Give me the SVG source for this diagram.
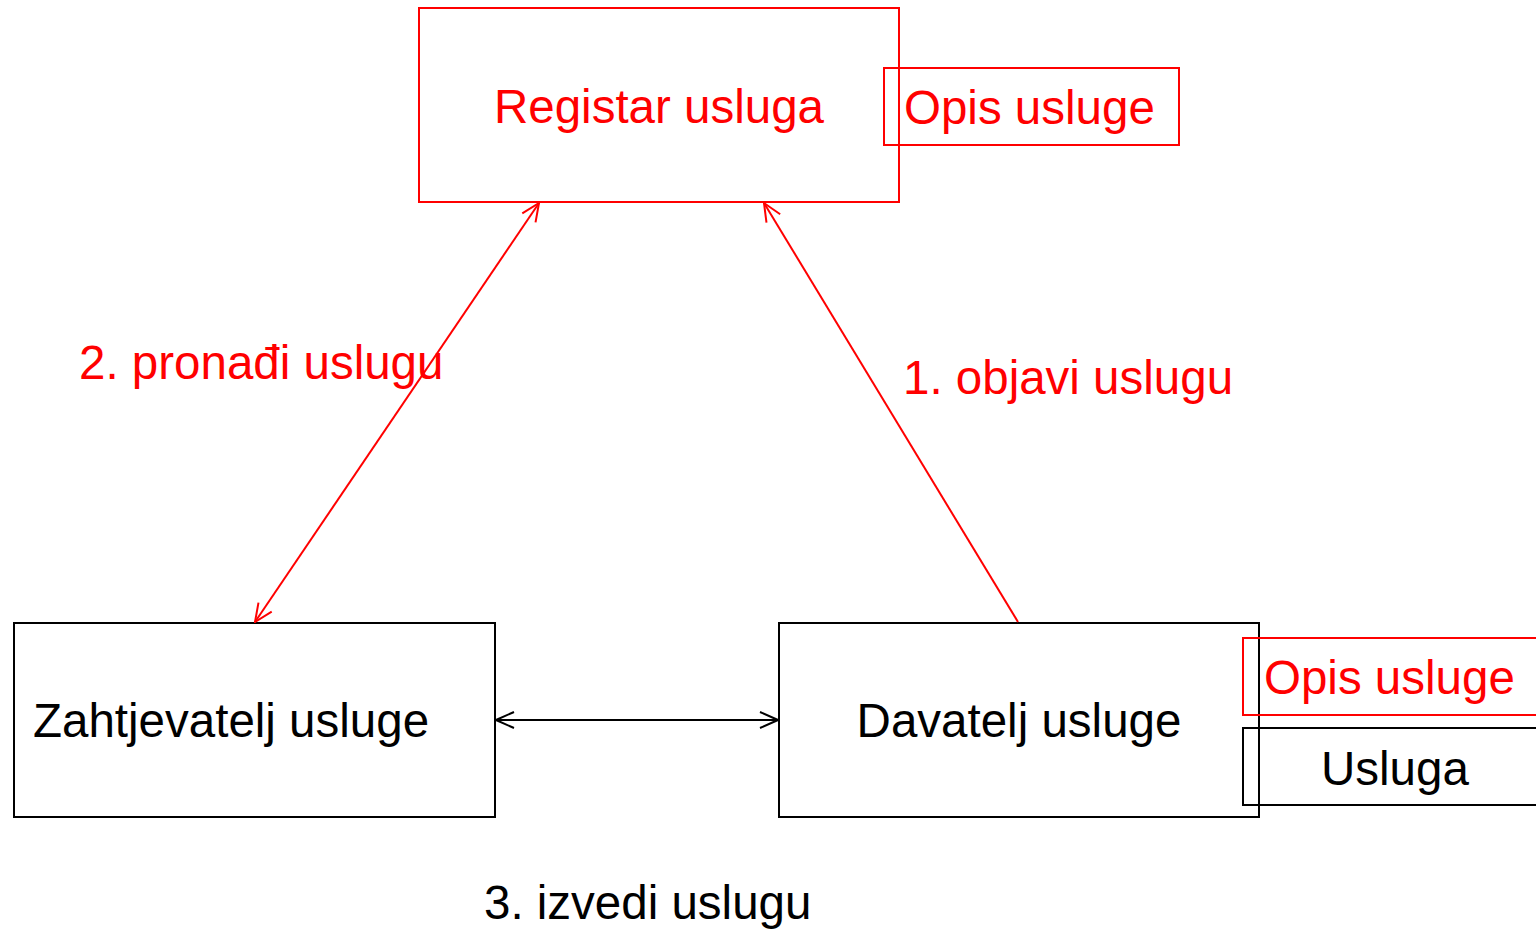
<svg xmlns="http://www.w3.org/2000/svg" width="1536" height="929" viewBox="0 0 1536 929">
<style>
text{font-family:"Liberation Sans",Arial,sans-serif;font-size:47.5px}
.r{fill:#ff0000}.k{fill:#000}
.br{fill:none;stroke:#ff0000;stroke-width:2}
.bk{fill:none;stroke:#000;stroke-width:2}
</style>
<defs>
<marker id="ar" viewBox="0 0 20 20" refX="19" refY="10" markerWidth="20" markerHeight="20" markerUnits="userSpaceOnUse" orient="auto-start-reverse"><path d="M1,2 L19,10 L1,18" fill="none" stroke="#ff0000" stroke-width="2"/></marker>
<marker id="ak" viewBox="0 0 20 20" refX="19" refY="10" markerWidth="20" markerHeight="20" markerUnits="userSpaceOnUse" orient="auto-start-reverse"><path d="M1,2 L19,10 L1,18" fill="none" stroke="#000" stroke-width="2"/></marker>
</defs>
<rect width="1536" height="929" fill="#fff"/>
<g id="registar"><rect class="br" x="419" y="8" width="480" height="194"/><text class="r" x="659" y="123" text-anchor="middle">Registar usluga</text></g>
<g id="opis1"><rect class="br" x="884" y="68" width="295" height="77"/><text class="r" x="904" y="124">Opis usluge</text></g>
<g id="zahtjevatelj"><rect class="bk" x="14" y="623" width="481" height="194"/><text class="k" x="33" y="737">Zahtjevatelj usluge</text></g>
<g id="davatelj"><rect class="bk" x="779" y="623" width="480" height="194"/><text class="k" x="1019" y="737" text-anchor="middle">Davatelj usluge</text></g>
<g id="opis2"><rect class="br" x="1243" y="638" width="300" height="77"/><text class="r" x="1264" y="694">Opis usluge</text></g>
<g id="usluga"><rect class="bk" x="1243" y="728" width="300" height="77"/><text class="k" x="1321" y="785">Usluga</text></g>
<g id="connectors">
<line x1="255" y1="622" x2="539" y2="203" stroke="#ff0000" stroke-width="2" marker-start="url(#ar)" marker-end="url(#ar)"/>
<line x1="1018" y1="622" x2="764" y2="203" stroke="#ff0000" stroke-width="2" marker-end="url(#ar)"/>
<line x1="496" y1="720" x2="778" y2="720" stroke="#000" stroke-width="2" marker-start="url(#ak)" marker-end="url(#ak)"/>
</g>
<g id="labels">
<text class="r" x="79" y="379">2. pronađi uslugu</text>
<text class="r" x="903" y="394">1. objavi uslugu</text>
<text class="k" x="484" y="919">3. izvedi uslugu</text>
</g>
</svg>
